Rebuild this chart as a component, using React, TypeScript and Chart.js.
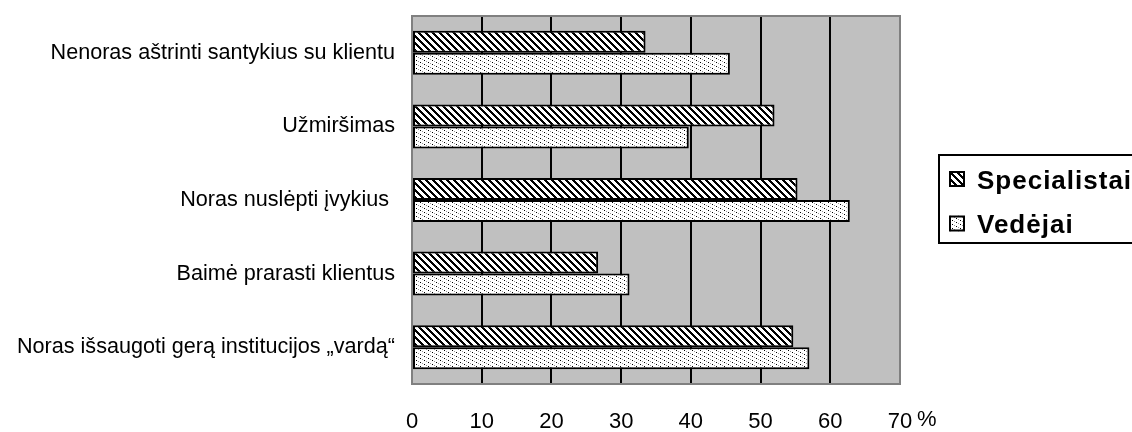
import React, { useEffect, useRef } from "react";
import { Chart, registerables } from "chart.js";

Chart.register(...registerables);

const categories = [
  "Nenoras aštrinti santykius su klientu",
  "Užmiršimas",
  "Noras nuslėpti įvykius ",
  "Baimė prarasti klientus",
  "Noras išsaugoti gerą institucijos „vardą“",
];
const specialistai = [33.5, 52.0, 55.3, 26.7, 54.7];
const vedejai = [45.6, 39.7, 62.8, 31.2, 57.0];
const seriesNames = ["Specialistai", "Vedėjai"];
const xMin = 0;
const xMax = 70;
const xStep = 10;
const unitLabel = "%";

const FONT = "Arial, 'Liberation Sans', sans-serif";

function makeHatch(): CanvasPattern | string {
  const p = 7;
  const c = document.createElement("canvas");
  c.width = p;
  c.height = p;
  const g = c.getContext("2d");
  if (!g) return "#fff";
  g.fillStyle = "#ffffff";
  g.fillRect(0, 0, p, p);
  g.fillStyle = "#000000";
  for (let y = 0; y < p; y++) {
    for (let x = 0; x < p; x++) {
      const d = (((x - y) % p) + p) % p;
      if (d < 3) g.fillRect(x, y, 1, 1);
    }
  }
  return g.createPattern(c, "repeat") || "#fff";
}

function makeDots(): CanvasPattern | string {
  const c = document.createElement("canvas");
  c.width = 8;
  c.height = 4;
  const g = c.getContext("2d");
  if (!g) return "#eee";
  g.fillStyle = "#ffffff";
  g.fillRect(0, 0, 8, 4);
  g.fillStyle = "#000000";
  g.fillRect(0, 0, 1, 1);
  g.fillRect(4, 2, 1, 1);
  g.fillStyle = "#9a9a9a";
  g.fillRect(2, 1, 1, 1);
  g.fillRect(6, 3, 1, 1);
  return g.createPattern(c, "repeat") || "#eee";
}

export default function App() {
  const ref = useRef<HTMLCanvasElement | null>(null);

  useEffect(() => {
    const canvas = ref.current;
    if (!canvas) return;
    const hatch = makeHatch();
    const dots = makeDots();
    const fills = [hatch, dots];

    const decor = {
      id: "decor",
      beforeDraw(chart: any) {
        const { ctx, chartArea: a } = chart;
        ctx.save();
        ctx.fillStyle = "#ffffff";
        ctx.fillRect(0, 0, chart.width, chart.height);
        ctx.fillStyle = "#c0c0c0";
        ctx.fillRect(a.left, a.top, a.right - a.left, a.bottom - a.top);
        ctx.restore();
      },
      beforeDatasetsDraw(chart: any) {
        const { ctx, chartArea: a } = chart;
        ctx.save();
        ctx.strokeStyle = "#808080";
        ctx.lineWidth = 2;
        ctx.strokeRect(a.left, a.top, a.right - a.left, a.bottom - a.top);
        ctx.restore();
      },
      afterDraw(chart: any) {
        const { ctx, chartArea: a } = chart;
        ctx.save();
        // unit label
        ctx.fillStyle = "#000";
        ctx.font = `22px ${FONT}`;
        ctx.textAlign = "left";
        ctx.textBaseline = "alphabetic";
        ctx.fillText(unitLabel, a.right + 17, 426);
        // legend
        const bx = 939;
        const by = 155;
        const bh = 88;
        ctx.strokeStyle = "#000";
        ctx.lineWidth = 2;
        ctx.strokeRect(bx, by, 300, bh);
        const rows = [179, 223.5];
        seriesNames.forEach((name, i) => {
          const cy = rows[i];
          ctx.fillStyle = fills[i] as any;
          ctx.fillRect(949, cy - 8, 16, 16);
          ctx.lineWidth = 2;
          ctx.strokeStyle = "#000";
          ctx.strokeRect(950, cy - 7, 14, 14);
          ctx.fillStyle = "#000";
          ctx.font = `bold 26px ${FONT}`;
          (ctx as any).letterSpacing = "1px";
          ctx.textBaseline = "alphabetic";
          ctx.fillText(name, 977, cy + 9.5);
          (ctx as any).letterSpacing = "0px";
        });
        ctx.restore();
      },
    };

    const chart = new Chart(canvas, {
      type: "bar",
      data: {
        labels: categories,
        datasets: [
          {
            label: seriesNames[0],
            data: specialistai,
            backgroundColor: hatch as any,
            borderColor: "#000",
            borderWidth: 2,
            borderSkipped: false,
            categoryPercentage: 0.598,
            barPercentage: 1,
          },
          {
            label: seriesNames[1],
            data: vedejai,
            backgroundColor: dots as any,
            borderColor: "#000",
            borderWidth: 2,
            borderSkipped: false,
            categoryPercentage: 0.598,
            barPercentage: 1,
          },
        ],
      },
      options: {
        indexAxis: "y",
        responsive: false,
        animation: false,
        devicePixelRatio: 1,
        layout: { padding: { top: 16, right: 232, bottom: 0, left: 0 } },
        plugins: {
          legend: { display: false },
          tooltip: { enabled: false },
        },
        scales: {
          x: {
            min: xMin,
            max: xMax,
            afterFit(scale: any) {
              scale.height = 48;
              scale.paddingLeft = 0;
              scale.paddingRight = 0;
            },
            ticks: {
              stepSize: xStep,
              color: "#000",
              padding: 25,
              font: { family: FONT, size: 22 },
            },
            grid: {
              drawTicks: false,
              lineWidth: 2,
              color: (c: any) =>
                c.tick && (c.tick.value === xMin || c.tick.value === xMax) ? "#808080" : "#000",
            },
            border: { display: false },
          },
          y: {
            afterFit(scale: any) {
              scale.width = 412;
              scale.paddingTop = 0;
              scale.paddingBottom = 0;
            },
            ticks: {
              color: "#000",
              padding: 17,
              font: { family: FONT, size: 21.6 },
            },
            grid: { display: false, drawTicks: false },
            border: { display: false },
          },
        },
      },
      plugins: [decor],
    });
    return () => chart.destroy();
  }, []);

  return (
    <div style={{ position: "fixed", left: 0, top: 0, width: 1132, height: 432, background: "#fff" }}>
      <canvas ref={ref} width={1132} height={432} style={{ width: 1132, height: 432, display: "block" }} />
    </div>
  );
}
